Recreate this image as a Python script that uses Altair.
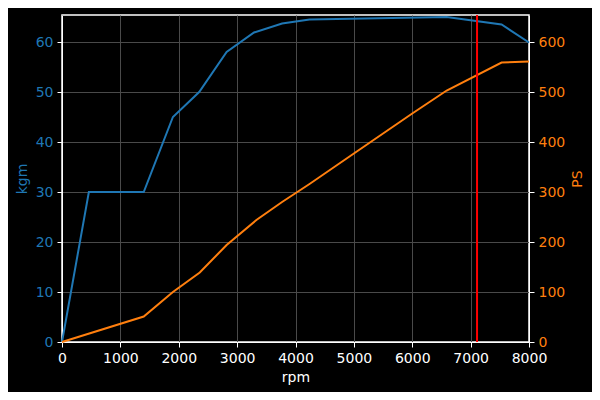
import altair as alt
import pandas as pd

# torque curve (kgm)
t_rpm = [0, 460, 1400, 1900, 2350, 2820, 3290, 3770, 4240, 6590, 7530, 8000]
t_kgm = [0, 30, 30, 45, 50, 58, 61.9, 63.7, 64.5, 65.0, 63.5, 59.9]

# power curve (PS)
p_rpm = [0, 1400, 1900, 2360, 2820, 3330, 3770, 4240, 5000, 6000, 6590, 7530, 8000]
p_ps = [0, 51, 100, 139, 194, 244, 280, 316, 377, 457, 503, 559, 561]

redline_rpm = [7110]

BLUE = "#1f77b4"
ORANGE = "#ff7f0e"
FONT = "DejaVu Sans"
FS = 14

tdf = pd.DataFrame({"rpm": t_rpm, "kgm": t_kgm})
pdf = pd.DataFrame({"rpm": p_rpm, "ps": p_ps})
rdf = pd.DataFrame({"rpm": redline_rpm})

xscale = alt.Scale(domain=[0, 8000], nice=False, zero=False)
xaxis = alt.Axis(
    title="rpm", values=list(range(0, 8001, 1000)), format="d",
    labelColor="white", titleColor="white", domainColor="white", tickColor="white",
    gridColor="#4a4a4a", grid=True, tickSize=5, labelPadding=4, titlePadding=5,
    labelFontSize=FS, titleFontSize=FS, labelFont=FONT, titleFont=FONT,
    titleFontWeight="normal", labelFlush=False,
)

torque = alt.Chart(tdf).mark_line(color=BLUE, strokeWidth=2).encode(
    x=alt.X("rpm:Q", scale=xscale, axis=xaxis),
    y=alt.Y(
        "kgm:Q",
        scale=alt.Scale(domain=[0, 65.4], nice=False),
        axis=alt.Axis(
            title="kgm", orient="left", values=[0, 10, 20, 30, 40, 50, 60],
            labelColor=BLUE, titleColor=BLUE, domainColor="white", tickColor="white",
            gridColor="#4a4a4a", grid=True, tickSize=5, labelPadding=4, titlePadding=6,
            labelFontSize=FS, titleFontSize=FS, labelFont=FONT, titleFont=FONT,
            titleFontWeight="normal", labelFlush=False,
        ),
    ),
)

power = alt.Chart(pdf).mark_line(color=ORANGE, strokeWidth=2).encode(
    x=alt.X("rpm:Q", scale=xscale),
    y=alt.Y(
        "ps:Q",
        scale=alt.Scale(domain=[0, 654], nice=False),
        axis=alt.Axis(
            title="PS", orient="right", values=[0, 100, 200, 300, 400, 500, 600],
            labelColor=ORANGE, titleColor=ORANGE, domainColor="white", tickColor="white",
            grid=False, tickSize=5, labelPadding=4, titlePadding=20, titleAngle=270,
            labelFontSize=FS, titleFontSize=FS, labelFont=FONT, titleFont=FONT,
            titleFontWeight="normal", labelFlush=False,
        ),
    ),
)

redline = alt.Chart(rdf).mark_rule(color="red", strokeWidth=2).encode(
    x=alt.X("rpm:Q", scale=xscale)
)

chart = (
    alt.layer(torque, power, redline)
    .resolve_scale(y="independent")
    .properties(
        width=467, height=327,
        autosize=alt.AutoSizeParams(type="none"),
        padding={"left": 54, "top": 7, "right": 63, "bottom": 50},
        background="black",
    )
    .configure_view(stroke="white", strokeWidth=1.5, fill="black")
)

chart.save("out.html", embed_options={"renderer": "svg", "actions": False})
